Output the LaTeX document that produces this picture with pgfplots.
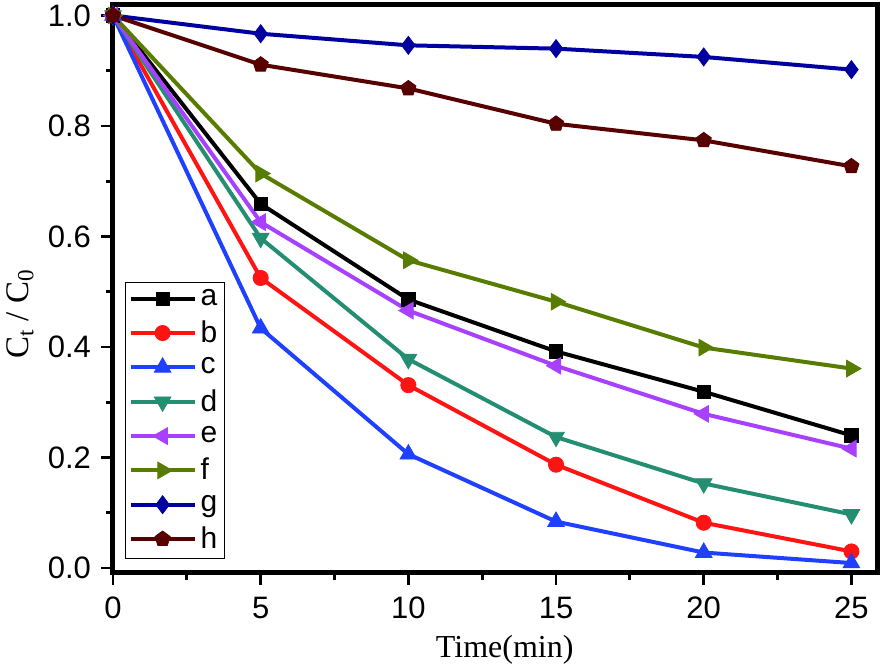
\documentclass[border=0pt]{standalone}
\usepackage{fontspec}
\setmainfont{Liberation Sans}
\newfontfamily\timesfont{Liberation Serif}
\usepackage{pgfplots}
\pgfplotsset{compat=1.18}
\definecolor{cA}{RGB}{0,0,0}
\definecolor{cB}{RGB}{255,20,20}
\definecolor{cC}{RGB}{32,64,255}
\definecolor{cD}{RGB}{36,142,114}
\definecolor{cE}{RGB}{168,64,255}
\definecolor{cF}{RGB}{88,124,0}
\definecolor{cG}{RGB}{0,0,160}
\definecolor{cH}{RGB}{88,0,0}
\begin{document}
\begin{tikzpicture}
\begin{axis}[
 name=ax,
 scale only axis, width=382.5pt, height=284pt,
 xmin=0, xmax=25.9, ymin=-0.009, ymax=1.019,
 xtick={0,5,10,15,20,25}, ytick={0,0.2,0.4,0.6,0.8,1.0},
 minor x tick num=1, minor y tick num=1,
 tick pos=left, tick align=outside,
 major tick length=6pt, minor tick length=3.5pt,
 every tick/.style={line width=1.4pt, black},
 axis line style={line width=2.5pt},
 /pgf/number format/assume math mode=true,
 yticklabel style={/pgf/number format/fixed, /pgf/number format/precision=1, /pgf/number format/fixed zerofill, xshift=-1.5pt},
 xticklabel style={yshift=-2.5pt},
 tick label style={font=\fontsize{15.5}{18}\selectfont},
 xlabel={Time(min)},
 ylabel={C\textsubscript{t} / C\textsubscript{0}},
 x label style={font=\timesfont\fontsize{16}{19}\selectfont, at={(axis description cs:0.512,-0.1356)}, anchor=center},
 y label style={font=\timesfont\fontsize{16.5}{19}\selectfont, at={(axis description cs:-0.1216,0.456)}, anchor=center},
 clip=false,
 legend style={at={(0,0)}, anchor=south west, xshift=6pt, yshift=7pt, draw=black, line width=0.6pt,
   font=\fontsize{15}{17}\selectfont, inner sep=1.5pt, row sep=2.2pt, cells={anchor=west}},
 legend image code/.code={\draw[mark repeat=2,mark phase=2] plot coordinates {(0pt,0pt) (16pt,0pt) (32pt,0pt)};},
 every axis plot/.append style={line width=2pt},
]
\addplot[color=cA, mark=square*, mark size=3.3pt, mark options={solid,line width=0.4pt}] coordinates {(0,1) (5,0.659) (10,0.486) (15,0.392) (20,0.319) (25,0.240)};
\addlegendentry{a}
\addplot[color=cB, mark=*, mark size=3.8pt, mark options={solid,line width=0.4pt}] coordinates {(0,1) (5,0.525) (10,0.331) (15,0.187) (20,0.082) (25,0.030)};
\addlegendentry{b}
\addplot[color=cC, mark=triangle*, mark size=4.8pt, mark options={solid,line width=0.4pt}] coordinates {(0,1) (5,0.434) (10,0.206) (15,0.084) (20,0.028) (25,0.009)};
\addlegendentry{c}
\addplot[color=cD, mark=triangle*, mark size=4.8pt, mark options={solid,line width=0.4pt,rotate=180}] coordinates {(0,1) (5,0.597) (10,0.378) (15,0.237) (20,0.153) (25,0.097)};
\addlegendentry{d}
\addplot[color=cE, mark=triangle*, mark size=4.8pt, mark options={solid,line width=0.4pt,rotate=90}] coordinates {(0,1) (5,0.626) (10,0.466) (15,0.366) (20,0.279) (25,0.216)};
\addlegendentry{e}
\addplot[color=cF, mark=triangle*, mark size=4.8pt, mark options={solid,line width=0.4pt,rotate=-90}] coordinates {(0,1) (5,0.714) (10,0.557) (15,0.482) (20,0.399) (25,0.361)};
\addlegendentry{f}
\addplot[color=cG, mark=diamond*, mark size=4.5pt, mark options={solid,line width=0.4pt}] coordinates {(0,1) (5,0.967) (10,0.946) (15,0.940) (20,0.925) (25,0.902)};
\addlegendentry{g}
\addplot[color=cH, mark=pentagon*, mark size=4pt, mark options={solid,line width=0.4pt}] coordinates {(0,1) (5,0.911) (10,0.868) (15,0.804) (20,0.774) (25,0.727)};
\addlegendentry{h}
\end{axis}
\pgfresetboundingbox
\path (ax.south west) ++(-56.5pt,-48pt) coordinate (bl);
\path (ax.north east) ++(4pt,2.5pt) coordinate (tr);
\path (bl) rectangle (tr);
\end{tikzpicture}
\end{document}
